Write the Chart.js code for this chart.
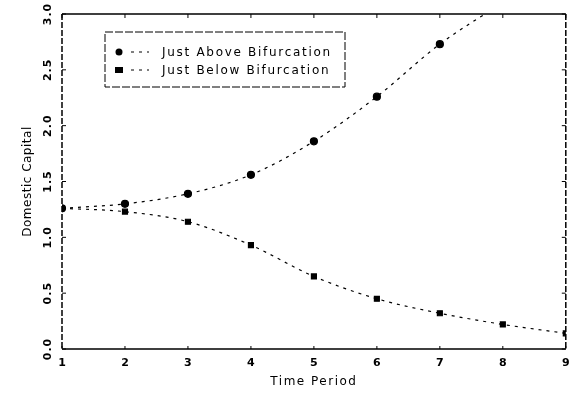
<!DOCTYPE html>
<html>
<head>
<meta charset="utf-8">
<script src="https://cdn.jsdelivr.net/npm/chart.js@4/dist/chart.umd.min.js"></script>
<style>
  html, body { margin: 0; padding: 0; background: #fff; }
  #wrap { width: 571px; height: 393px; }
</style>
</head>
<body>
<div id="wrap"><canvas id="chart"></canvas></div>
<script>
const periods = [1, 2, 3, 4, 5, 6, 7, 8, 9];
const aboveValues = [1.26, 1.30, 1.39, 1.56, 1.86, 2.26, 2.73, 3.1, 3.45];
const belowValues = [1.26, 1.23, 1.14, 0.93, 0.65, 0.45, 0.32, 0.22, 0.14];
const yTicks = [0, 0.5, 1, 1.5, 2, 2.5, 3];
const seriesNames = ['Just Above Bifurcation', 'Just Below Bifurcation'];
const xTitle = 'Time Period';
const yTitle = 'Domestic Capital';

const FONT = 'DejaVu Sans';

/* frame, inward ticks, rotated y labels, titles, legend box */
const framePlugin = {
    id: 'frame',
    afterDraw(chart) {
        const { ctx, chartArea: a, scales } = chart;
        const x = scales.x, y = scales.y;
        ctx.save();
        ctx.strokeStyle = '#000';
        ctx.lineWidth = 1.5;

        ctx.beginPath();
        ctx.moveTo(a.left, a.top); ctx.lineTo(a.right, a.top);
        ctx.moveTo(a.left, a.bottom); ctx.lineTo(a.right, a.bottom);
        ctx.stroke();

        ctx.setLineDash([6, 2]);
        ctx.beginPath();
        ctx.moveTo(a.left, a.top); ctx.lineTo(a.left, a.bottom);
        ctx.moveTo(a.right, a.top); ctx.lineTo(a.right, a.bottom);
        ctx.stroke();
        ctx.setLineDash([]);

        ctx.lineWidth = 1;
        ctx.beginPath();
        periods.forEach(p => {
            const px = x.getPixelForValue(p);
            ctx.moveTo(px, a.top); ctx.lineTo(px, a.top + 4);
            ctx.moveTo(px, a.bottom); ctx.lineTo(px, a.bottom - 3);
        });
        yTicks.forEach(v => {
            const py = y.getPixelForValue(v);
            ctx.moveTo(a.left, py); ctx.lineTo(a.left + 4, py);
            ctx.moveTo(a.right, py); ctx.lineTo(a.right - 4, py);
        });
        ctx.stroke();

        // y tick labels, rotated
        ctx.fillStyle = '#000';
        ctx.font = `bold 11px "${FONT}"`;
        ctx.textAlign = 'center';
        ctx.textBaseline = 'middle';
        ctx.letterSpacing = '1px';
        yTicks.forEach(v => {
            const py = y.getPixelForValue(v);
            ctx.save();
            ctx.translate(a.left - 14, py);
            ctx.rotate(-Math.PI / 2);
            ctx.fillText(v.toFixed(1), 0, 0);
            ctx.restore();
        });

        // axis titles
        ctx.font = `12px "${FONT}"`;
        ctx.letterSpacing = '1.5px';
        ctx.fillText(xTitle, (a.left + a.right) / 2, 382);
        ctx.save();
        ctx.translate(28, (a.top + a.bottom) / 2);
        ctx.rotate(-Math.PI / 2);
        ctx.letterSpacing = '0.5px';
        ctx.fillText(yTitle, 0, 0);
        ctx.restore();

        // legend
        const bx = 105, by = 32, bw = 240, bh = 55;
        ctx.lineWidth = 1;
        ctx.setLineDash([8, 2]);
        ctx.strokeRect(bx, by, bw, bh);
        ctx.setLineDash([]);
        const rows = [
            { label: seriesNames[0], style: 'circle', y: by + 20 },
            { label: seriesNames[1], style: 'rect', y: by + 38 }
        ];
        ctx.textAlign = 'left';
        ctx.font = `12px "${FONT}"`;
        ctx.letterSpacing = '1.7px';
        rows.forEach(r => {
            ctx.beginPath();
            if (r.style === 'circle') ctx.arc(bx + 14, r.y, 3.5, 0, Math.PI * 2);
            else ctx.rect(bx + 10, r.y - 3, 8, 6);
            ctx.fill();
            ctx.setLineDash([3, 5]);
            ctx.beginPath();
            ctx.moveTo(bx + 26, r.y); ctx.lineTo(bx + 44, r.y);
            ctx.stroke();
            ctx.setLineDash([]);
            ctx.fillText(r.label, bx + 57, r.y + 1);
        });
        ctx.restore();
    }
};

new Chart(document.getElementById('chart'), {
    type: 'line',
    data: {
        labels: periods,
        datasets: [
            {
                label: seriesNames[0],
                data: periods.map((p, i) => ({ x: p, y: aboveValues[i] })),
                borderColor: '#000',
                backgroundColor: '#000',
                borderWidth: 1.2,
                borderDash: [3, 5],
                pointStyle: 'circle',
                pointRadius: 3.5,
                cubicInterpolationMode: 'monotone'
            },
            {
                label: seriesNames[1],
                data: periods.map((p, i) => ({ x: p, y: belowValues[i] })),
                borderColor: '#000',
                backgroundColor: '#000',
                borderWidth: 1.2,
                borderDash: [3, 5],
                pointStyle: 'rect',
                pointRadius: 3.5,
                cubicInterpolationMode: 'monotone'
            }
        ]
    },
    options: {
        responsive: true,
        maintainAspectRatio: false,
        animation: false,
        layout: { padding: { left: 0, right: 3, top: 14, bottom: 0 } },
        plugins: { legend: { display: false }, tooltip: { enabled: false } },
        scales: {
            x: {
                type: 'linear',
                min: 1, max: 9,
                grid: { display: false, drawTicks: false },
                border: { display: false },
                ticks: {
                    stepSize: 1, padding: 8, color: '#000',
                    font: { family: FONT, size: 11, weight: 'bold' }
                },
                afterFit(scale) {
                    scale.height = 44;
                    scale.paddingLeft = 0;
                    scale.paddingRight = 0;
                }
            },
            y: {
                min: 0, max: 3,
                grid: { display: false, drawTicks: false },
                border: { display: false },
                ticks: { display: false, stepSize: 0.5 },
                afterFit(scale) { scale.width = 62; }
            }
        }
    },
    plugins: [framePlugin]
});
</script>
</body>
</html>
